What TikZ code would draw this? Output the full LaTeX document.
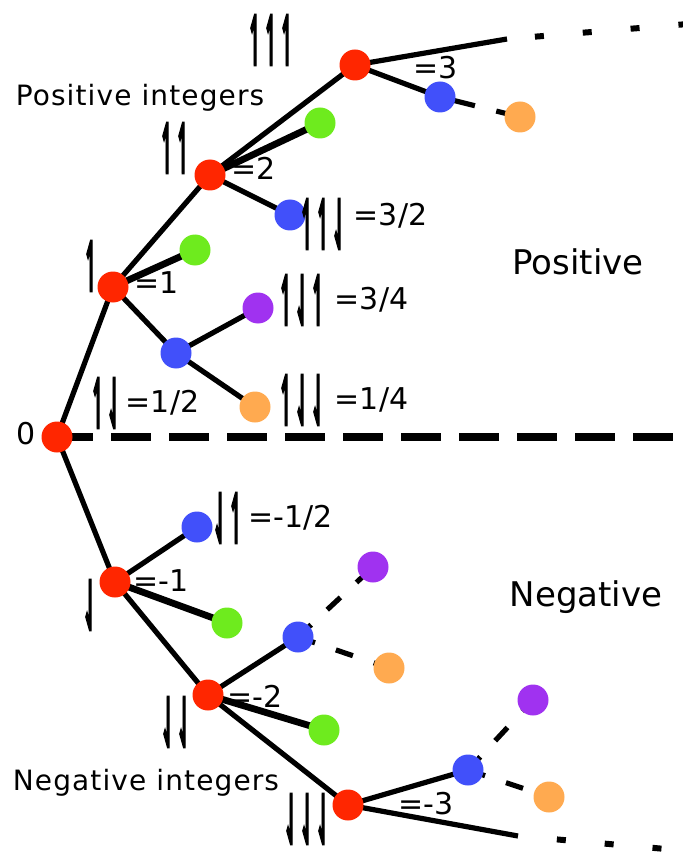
\documentclass[tikz,border=0pt]{standalone}
\usepackage{fontspec}
\setmainfont{DejaVu Sans}
\newfontfamily\harpfont[FakeBold=4]{DejaVu Sans Bold}
\usetikzlibrary{positioning, backgrounds}
\definecolor{SNred}{RGB}{255, 38, 0}
\definecolor{SNgreen}{RGB}{110, 235, 30}
\definecolor{SNblue}{RGB}{65, 80, 250}
\definecolor{SNpurple}{RGB}{160, 50, 240}
\definecolor{SNorange}{RGB}{255, 170, 80}
% tall sign-expansion glyphs
\newcommand\harpU{\resizebox*{8pt}{25pt}{\harpfont ↿}}
\newcommand\harpD{\resizebox*{8pt}{25pt}{\harpfont ⇃}}
\tikzset{
  dot/.style={circle, minimum size=15.5pt, inner sep=0pt},
  rn/.style={dot, fill=SNred},
  gn/.style={dot, fill=SNgreen},
  bn/.style={dot, fill=SNblue},
  pn/.style={dot, fill=SNpurple},
  on/.style={dot, fill=SNorange},
  edge/.style={line width=2.6pt},
  gedge/.style={line width=3.4pt},
  cont/.style={line width=2.6pt, dash pattern=on 9pt off 11pt},
  ell/.style={line width=3pt, dash pattern=on 4.5pt off 19.5pt},
  axis/.style={line width=3.6pt, dash pattern=on 20pt off 9pt, dash phase=2pt},
  sgn/.style={inner sep=0pt},
  val/.style={inner sep=0pt, font=\fontsize{15}{18}\selectfont},
  word/.style={inner sep=0pt, font=\fontsize{14}{17}\selectfont\addfontfeatures{LetterSpace=4}},
  side/.style={inner sep=0pt, font=\fontsize{17}{20}\selectfont},
}

\begin{document}
\begin{tikzpicture}[x=0.5pt, y=-0.5pt]
    \useasboundingbox (0,0) rectangle (683,861);
    % root
    \node[rn] (z) at (57,437) {};
    \node[val] (zl) at (26,434) {0};
    \coordinate (zend) at (690,437);
    % positive side
    \node[rn] (p1) at (113,287) {};
    \node[rn] (p2) at (210,175) {};
    \node[rn] (p3) at (355,65) {};
    \node[gn] (g1) at (195,250) {};
    \node[gn] (g2) at (320,123) {};
    \node[bn] (b12) at (176,353) {};
    \node[pn] (u34) at (258,308) {};
    \node[on] (o14) at (255,407) {};
    \node[bn] (b32) at (290,215) {};
    \node[bn] (b3) at (440,97) {};
    \node[on] (o3) at (520,117) {};
    \coordinate (ptop) at (507,39);
    \coordinate (pend) at (700,23);
    % negative side
    \node[rn] (n1) at (115,582) {};
    \node[rn] (n2) at (208,695) {};
    \node[rn] (n3) at (348,805) {};
    \node[bn] (bm12) at (197,527) {};
    \node[gn] (gm1) at (227,623) {};
    \node[gn] (gm2) at (324,730) {};
    \node[bn] (bm2) at (298,637) {};
    \node[pn] (um2) at (373,567) {};
    \node[on] (om2) at (389,668) {};
    \node[bn] (bm3) at (468,770) {};
    \node[pn] (um3) at (533,700) {};
    \node[on] (om3) at (549,797) {};
    \coordinate (nbot) at (518,836);
    \coordinate (nend) at (700,852);
    % sign labels
    \node[sgn] (s1) at (91,266) {\harpU};
    \node[val, anchor=west] (v1) at (134,283) {=1};
    \node[sgn] (s11) at (175,148) {\harpU\harpU};
    \node[val, anchor=west] (v11) at (231,168) {=2};
    \node[sgn] (s111) at (271,40) {\harpU\harpU\harpU};
    \node[val, anchor=west] (v111) at (413,68) {=3};
    \node[sgn] (s12) at (106,403) {\harpU\harpD};
    \node[val, right=1.5pt of s12] (v12) {=1/2};
    \node[sgn] (s34) at (302,300) {\harpU\harpD\harpU};
    \node[val, right=4pt of s34] (v34) {=3/4};
    \node[sgn] (s14) at (302,400) {\harpU\harpD\harpD};
    \node[val, right=4pt of s14] (v14) {=1/4};
    \node[sgn] (s32) at (323,224) {\harpU\harpU\harpD};
    \node[val, right=3pt of s32, yshift=4pt] (v32) {=3/2};
    \node[sgn] (sm1) at (90,605) {\harpD};
    \node[val, anchor=west] (vm1) at (133,581) {=-1};
    \node[sgn] (sm12) at (228,518) {\harpD\harpU};
    \node[val, right=2pt of sm12] (vm12) {=-1/2};
    \node[sgn] (sm2) at (176,722) {\harpD\harpD};
    \node[val, anchor=west] (vm2) at (227,696) {=-2};
    \node[sgn] (sm3) at (307,819) {\harpD\harpD\harpD};
    \node[val, anchor=west] (vm3) at (398,804) {=-3};
    % words
    \node[word] (posint) at (140,98) {Positive integers};
    \node[word] (negint) at (146,783) {Negative integers};
    \node[side] (pos) at (578,262) {Positive};
    \node[side] (neg) at (586,597) {Negative};
    \begin{scope}[on background layer]
      \draw[axis] (z.center) -- (zend);
      \draw[edge] (z.center) -- (p1.center);
      \draw[edge] (p1.center) -- (p2.center);
      \draw[edge] (p2.center) -- (p3.center);
      \draw[gedge] (p1.center) -- (g1.center);
      \draw[gedge] (p2.center) -- (g2.center);
      \draw[edge] (p1.center) -- (b12.center);
      \draw[edge] (b12.center) -- (u34.center);
      \draw[edge] (b12.center) -- (o14.center);
      \draw[edge] (p2.center) -- (b32.center);
      \draw[edge] (p3.center) -- (b3.center);
      \draw[cont, dash pattern=on 18pt off 11pt] (b3.center) -- (o3.center);
      \draw[edge] (p3.center) -- (ptop);
      \draw[ell, dash phase=10pt] (ptop) -- (pend);
      \draw[edge] (z.center) -- (n1.center);
      \draw[edge] (n1.center) -- (bm12.center);
      \draw[gedge] (n1.center) -- (gm1.center);
      \draw[edge] (n1.center) -- (n2.center);
      \draw[edge] (n2.center) -- (bm2.center);
      \draw[cont] (bm2.center) -- (um2.center);
      \draw[cont] (bm2.center) -- (om2.center);
      \draw[gedge] (n2.center) -- (gm2.center);
      \draw[edge] (n2.center) -- (n3.center);
      \draw[edge] (n3.center) -- (bm3.center);
      \draw[cont] (bm3.center) -- (um3.center);
      \draw[cont] (bm3.center) -- (om3.center);
      \draw[edge] (n3.center) -- (nbot);
      \draw[ell, dash phase=4.5pt] (nbot) -- (nend);
    \end{scope}
\end{tikzpicture}
\end{document}
